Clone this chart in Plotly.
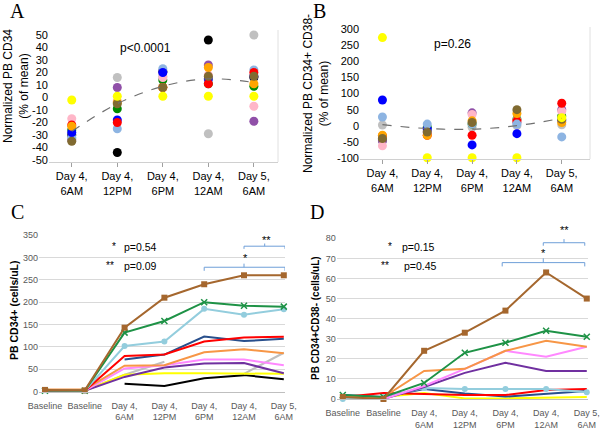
import plotly.graph_objects as go

W, H = 600, 428

# ---------------- data ----------------
TIMES_AB = ["Day 4,<br>6AM", "Day 4,<br>12PM", "Day 4,<br>6PM", "Day 4,<br>12AM", "Day 5,<br>6AM"]
TIMES_CD = ["Baseline", "Baseline", "Day 4,<br>6AM", "Day 4,<br>12PM", "Day 4,<br>6PM",
            "Day 4,<br>12AM", "Day 5,<br>6AM"]

A_TICKVALS = [50, 40, 30, 20, 10, 0, -10, -20, -30, -40, -50]
A_TICKTEXT = ["50", "40", "30", "20", "10", "0", "-10", "-20", "-30", "-40", "-50"]
B_TICKVALS = [300, 250, 200, 150, 100, 50, 0, -50, -100]
B_TICKTEXT = ["300", "250", "200", "150", "100", "50", "0", "-50", "-100"]

# Panel A: normalized PB CD34 (% of mean)
A_GREY = [-33, 16, 17, -29, 50]
A_BLACK = [-30, -44, 21, 46, 16]
A_PURPLE = [-34, 8, 20, 26, -19]
A_GREEN = [-26, -9, 14, 11, 9]
A_PINK = [-17, -3, 16, 18, -7]
A_LIGHTBLUE = [-32, -25, 23, 14, 22]
A_BLUE = [-28, -18, 20, 15, 17]
A_RED = [-22, -20, 8, 11, 20]
A_ORANGE = [-23, -4, 8, 24, 11]
A_BROWN = [-35, -5, 8, 17, 17]
A_YELLOW = [-2, 1, 1, 1, 1]
A_TREND = [-27, -5, 9, 15, 12]

# Panel B: normalized PB CD34+CD38- (% of mean)
B_GREY = [2, -15, -5, 0, 3]
B_GREEN = [-45, -5, 5, 20, 30]
B_PURPLE = [-48, -20, 40, 10, 50]
B_PINK = [-63, -25, 35, 17, 45]
B_BLUE = [80, -10, -60, -25, 15]
B_RED = [-32, -30, -30, 15, 70]
B_ORANGE = [-30, -30, 15, 38, 10]
B_LIGHTBLUE = [27, 5, 5, 5, -35]
B_BROWN = [-40, -20, 10, 50, 20]
B_YELLOW = [275, -100, -100, -100, 25]
B_TREND = [3, -9, -11, 0, 23]

# Panel C: PB CD34+ (cells/uL)
C_BLACK = [None, None, 18, 13, 30, 37, 28]
C_GREY = [None, 2, 38, 67, None, 40, 87]
C_YELLOW = [2, 2, 38, 41, 41, 41, 40]
C_PURPLE = [2, 2, 33, 54, 63, 64, 41]
C_PINK = [2, 2, 52, 59, 72, 72, 59]
C_ORANGE = [5, 5, 58, 59, 88, 95, 86]
C_NAVY = [None, None, 72, 83, 123, 113, 118]
C_RED = [2, 2, 80, 83, 112, 121, 123]
C_LIGHTBLUE = [3, 2, 102, 112, 185, 172, 184]
C_GREEN = [2, 2, 132, 158, 200, 192, 190]
C_BROWN = [4, 3, 143, 210, 240, 260, 260]

# Panel D: PB CD34+CD38- (cells/uL)
D_YELLOW = [1, 1, 3, 0.3, 0.3, 0.5, 1]
D_NAVY = [2, 1, 5, 2.8, 1.2, 2.5, 4]
D_RED = [1, 3, 2.5, 2, 2, 4.5, 5]
D_LIGHTBLUE = [0, 1, 5.5, 5, 5, 5, 3.3]
D_PURPLE = [None, 0, 6, 13, 18, 14, 14]
D_PINK = [None, 0, 6.5, 15, 24, 21, 26]
D_ORANGE = [1, 1, 14, 15, 24, 29, 26]
D_GREEN = [2, 1, 8, 23, 28, 34, 31]
D_BROWN = [1, 0, 24, 33, 44, 63, 50]

# ---------------- styles ----------------
SC = dict(grey="#c0c0c0", black="#000000", purple="#9050a8", green="#008a00",
          pink="#ffb6c8", lightblue="#8db4e2", blue="#0000ff", red="#ff0000",
          orange="#ffa500", brown="#806a30", yellow="#ffff00")
LC = dict(black="#000000", grey="#bfbfbf", yellow="#ffff00", purple="#7030a0",
          pink="#ff88ff", orange="#f79646", navy="#284f8c", red="#ff0000",
          lightblue="#93cddd", green="#1e9246", brown="#a5672e")

FONT = "Liberation Sans, Arial, sans-serif"

fig = go.Figure()


def fx(p):
    return p / W


def fy(p):
    return 1 - p / H


# Panel A scatter
for vals, c in [(A_GREY, "grey"), (A_BLACK, "black"), (A_PURPLE, "purple"), (A_GREEN, "green"),
                (A_PINK, "pink"), (A_LIGHTBLUE, "lightblue"), (A_BLUE, "blue"), (A_RED, "red"),
                (A_ORANGE, "orange"), (A_BROWN, "brown"), (A_YELLOW, "yellow")]:
    fig.add_trace(go.Scatter(x=TIMES_AB, y=vals, mode="markers", xaxis="x", yaxis="y",
                             marker=dict(color=SC[c], size=9, line=dict(width=0)),
                             cliponaxis=False, showlegend=False))
fig.add_trace(go.Scatter(x=TIMES_AB, y=A_TREND, mode="lines", xaxis="x", yaxis="y",
                         line=dict(color="#707070", width=1.2, dash="dash", shape="spline"),
                         showlegend=False))

# Panel B scatter
for vals, c in [(B_GREY, "grey"), (B_GREEN, "green"), (B_PURPLE, "purple"), (B_PINK, "pink"),
                (B_BLUE, "blue"), (B_RED, "red"), (B_ORANGE, "orange"), (B_LIGHTBLUE, "lightblue"),
                (B_BROWN, "brown"), (B_YELLOW, "yellow")]:
    fig.add_trace(go.Scatter(x=TIMES_AB, y=vals, mode="markers", xaxis="x2", yaxis="y2",
                             marker=dict(color=SC[c], size=9, line=dict(width=0)),
                             cliponaxis=False, showlegend=False))
fig.add_trace(go.Scatter(x=TIMES_AB, y=B_TREND, mode="lines", xaxis="x2", yaxis="y2",
                         line=dict(color="#707070", width=1.2, dash="dash", shape="spline"),
                         showlegend=False))

X_CD = list(range(len(TIMES_CD)))


def add_lines(series, xa, ya):
    for vals, c, sym in series:
        kw = dict(mode="lines")
        if sym == "square":
            kw = dict(mode="lines+markers", marker=dict(symbol="square", size=6, color=LC[c]))
        elif sym == "x":
            kw = dict(mode="lines+markers",
                      marker=dict(symbol="x-thin-open", size=6, color=LC[c], line=dict(width=1.5, color=LC[c])))
        elif sym == "circle":
            kw = dict(mode="lines+markers", marker=dict(symbol="circle", size=6, color=LC[c]))
        fig.add_trace(go.Scatter(x=X_CD, y=vals, xaxis=xa, yaxis=ya, line=dict(color=LC[c], width=2),
                                 cliponaxis=False, connectgaps=False, showlegend=False, **kw))


add_lines([(C_BLACK, "black", None), (C_GREY, "grey", None), (C_YELLOW, "yellow", None),
           (C_PURPLE, "purple", None), (C_PINK, "pink", None), (C_ORANGE, "orange", None),
           (C_NAVY, "navy", None), (C_RED, "red", None), (C_LIGHTBLUE, "lightblue", "circle"),
           (C_GREEN, "green", "x"), (C_BROWN, "brown", "square")], "x3", "y3")
add_lines([(D_YELLOW, "yellow", None), (D_NAVY, "navy", None), (D_RED, "red", None),
           (D_LIGHTBLUE, "lightblue", "circle"), (D_PURPLE, "purple", None), (D_PINK, "pink", None),
           (D_ORANGE, "orange", None), (D_GREEN, "green", "x"), (D_BROWN, "brown", "square")], "x4", "y4")

tickAB = dict(family=FONT, size=11, color="#000000")
tickCD = dict(family=FONT, size=9, color="#595959")

fig.update_layout(
    template="none",
    width=W, height=H, autosize=False, margin=dict(l=0, r=0, t=0, b=0, pad=0),
    paper_bgcolor="white", plot_bgcolor="white", showlegend=False,
    font=dict(family=FONT, color="#000000"),
    xaxis=dict(domain=[fx(49), fx(278)], anchor="y", type="category", range=[-0.5, 4.53],
               automargin=False, showgrid=False, zeroline=False, showline=True,
               linecolor="#d0d0d0", linewidth=1,
               ticks="outside", ticklen=4, tickcolor="#a0a0a0", tickfont=tickAB),
    yaxis=dict(domain=[fy(162), fy(30)], anchor="x", range=[-51.6, 54], showgrid=False,
               automargin=False, zeroline=False, showline=False, tickvals=A_TICKVALS,
               ticktext=A_TICKTEXT, tickfont=tickAB, ticks=""),
    xaxis2=dict(domain=[fx(360), fx(590)], anchor="y2", type="category", range=[-0.5, 4.63],
                automargin=False, showgrid=False, zeroline=False, showline=True,
                linecolor="#d0d0d0", linewidth=1,
                ticks="outside", ticklen=4, tickcolor="#a0a0a0", tickfont=tickAB),
    yaxis2=dict(domain=[fy(159), fy(27)], anchor="x2", range=[-104, 308], showgrid=False,
                automargin=False, zeroline=False, showline=False, tickvals=B_TICKVALS,
                ticktext=B_TICKTEXT, tickfont=tickAB, ticks=""),
    xaxis3=dict(domain=[fx(39), fx(285)], anchor="y3", range=[-0.15, 6.03], showgrid=False,
                automargin=False, zeroline=False, showline=True, linecolor="#bfbfbf", linewidth=1,
                tickvals=X_CD, ticktext=TIMES_CD, tickfont=tickCD,
                ticks="outside", ticklen=5, tickcolor="rgba(0,0,0,0)"),
    yaxis3=dict(domain=[fy(391.7), fy(235)], anchor="x3", range=[0, 350], dtick=50,
                automargin=False, showgrid=True, gridcolor="#d9d9d9", gridwidth=1,
                zeroline=False, showline=False, ticks="", tickfont=tickCD),
    xaxis4=dict(domain=[fx(336.7), fx(588)], anchor="y4", range=[-0.15, 6.03], showgrid=False,
                automargin=False, zeroline=False, showline=True, linecolor="#bfbfbf", linewidth=1,
                tickvals=X_CD, ticktext=TIMES_CD, tickfont=tickCD,
                ticks="outside", ticklen=5, tickcolor="rgba(0,0,0,0)"),
    yaxis4=dict(domain=[fy(399), fy(238.3)], anchor="x4", range=[0, 80], dtick=10,
                automargin=False, showgrid=True, gridcolor="#d9d9d9", gridwidth=1,
                zeroline=False, showline=False, ticks="", tickfont=tickCD),
)

# right frame lines for A and B
fig.add_shape(type="line", xref="x domain", yref="y domain", x0=1, x1=1, y0=0, y1=1,
              line=dict(color="#e0e0e0", width=1))
fig.add_shape(type="line", xref="x2 domain", yref="y2 domain", x0=1, x1=1, y0=0, y1=1,
              line=dict(color="#e0e0e0", width=1))

BR = "#6f9fd8"


def bracket(xa, ya, x0, x1, y, yend, xm, ytop):
    path = f"M {x0},{yend} L {x0},{y} L {x1},{y} L {x1},{yend} M {xm},{y} L {xm},{ytop}"
    fig.add_shape(type="path", xref=xa, yref=ya, path=path, line=dict(color=BR, width=1))


# C brackets
bracket("x3", "y3", 4.0, 6.03, 278, 270, 5.0, 286)
bracket("x3", "y3", 5.0, 6.03, 325, 319, 5.52, 331)
# D brackets
bracket("x4", "y4", 3.92, 5.95, 67.9, 66.0, 4.93, 70.0)
bracket("x4", "y4", 4.93, 5.95, 77.8, 76.3, 5.44, 79.6)

ann = []


def txt(x, y, s, size=11, **kw):
    d = dict(x=fx(x), y=fy(y), xref="paper", yref="paper", text=s, showarrow=False,
             font=dict(family=kw.pop("family", FONT), size=size, color=kw.pop("color", "#000000")),
             xanchor=kw.pop("xanchor", "center"), yanchor=kw.pop("yanchor", "middle"))
    d.update(kw)
    ann.append(d)


SERIF = "Liberation Serif, Times New Roman, serif"
txt(17, 11, "A", 20, family=SERIF)
txt(319, 11, "B", 20, family=SERIF)
txt(17, 212, "C", 20, family=SERIF)
txt(317, 212, "D", 20, family=SERIF)

txt(145, 48, "p&lt;0.0001", 12)
txt(452, 44, "p=0.26", 12)

txt(16, 86, "Normalized PB CD34<br>(% of mean)", 12, textangle=-90)
txt(316, 93, "Normalized PB CD34+ CD38-<br>(% of mean)", 12, textangle=-90)
txt(14, 310, "<b>PB CD34+ (cells/uL)</b>", 10.5, textangle=-90)
txt(315, 318, "<b>PB CD34+CD38- (cells/uL)</b>", 10, textangle=-90)

# C p-values
txt(118, 246, "*", 10, xanchor="right")
txt(122, 247, "p=0.54", 10.5, xanchor="left")
txt(116, 265, "**", 10, xanchor="right")
txt(122, 266, "p=0.09", 10.5, xanchor="left")
txt(245, 258, "*", 11)
txt(266, 240, "**", 11)
# D p-values
txt(394, 246, "*", 10, xanchor="right")
txt(400, 247, "p=0.15", 10.5, xanchor="left")
txt(391, 265, "**", 10, xanchor="right")
txt(402, 266, "p=0.45", 10.5, xanchor="left")
txt(543, 253, "*", 11)
txt(564, 230, "**", 11)

fig.update_layout(annotations=ann)
fig.write_html("out.html", config={"displayModeBar": False})

# remove the default page margin so the figure sits at the window's top-left corner
with open("out.html", encoding="utf-8") as f:
    html = f.read()
html = html.replace("<head>", "<head><style>html,body{margin:0;padding:0;overflow:hidden;}</style>", 1)
with open("out.html", "w", encoding="utf-8") as f:
    f.write(html)
